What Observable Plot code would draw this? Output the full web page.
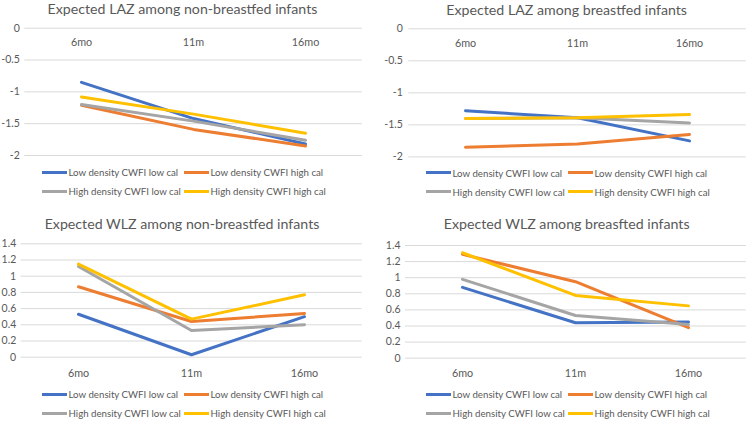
<!DOCTYPE html>
<html>
<head>
<meta charset="utf-8">
<script src="https://cdn.jsdelivr.net/npm/d3@7"></script>
<script src="https://cdn.jsdelivr.net/npm/@observablehq/plot@0.6"></script>
<style>
  html, body { margin: 0; padding: 0; background: #fff; }
  body { width: 750px; height: 423px; position: relative; overflow: hidden; font-family: Lato, "Open Sans", sans-serif; color: #595959; }
  .panel { position: absolute; width: 375px; height: 211px; }
  .title { position: absolute; top: 0; height: 18px; line-height: 18px; font-size: 14.2px; text-align: center; white-space: nowrap; color: #595959; }
  .chart { position: absolute; left: 0; top: 16px; }
  .legend { position: absolute; display: grid; grid-template-columns: 142px 142px; font-size: 9.7px; color: #595959; }
  .item { display: flex; align-items: center; height: 19px; white-space: nowrap; }
  .sw { display: inline-block; width: 25px; height: 3px; margin-right: 1.5px; }
</style>
</head>
<body>
<script>
// ---- data ----
const months = ["6mo", "11m", "16mo"];
const seriesNames = [
  "Low density CWFI low cal",
  "Low density CWFI high cal",
  "High density CWFI low cal",
  "High density CWFI high cal"
];
const seriesColors = ["#4472C4", "#ED7D31", "#A5A5A5", "#FFC000"];

// Expected LAZ among non-breastfed infants
const lazNonBF_lowLow   = [-0.85, -1.42, -1.82];
const lazNonBF_lowHigh  = [-1.21, -1.59, -1.85];
const lazNonBF_highLow  = [-1.20, -1.46, -1.76];
const lazNonBF_highHigh = [-1.08, -1.35, -1.65];

// Expected LAZ among breastfed infants
const lazBF_lowLow   = [-1.28, -1.39, -1.75];
const lazBF_lowHigh  = [-1.85, -1.80, -1.65];
const lazBF_highLow  = [-1.40, -1.39, -1.47];
const lazBF_highHigh = [-1.40, -1.39, -1.34];

// Expected WLZ among non-breastfed infants
const wlzNonBF_lowLow   = [0.53, 0.03, 0.50];
const wlzNonBF_lowHigh  = [0.87, 0.44, 0.54];
const wlzNonBF_highLow  = [1.12, 0.33, 0.40];
const wlzNonBF_highHigh = [1.15, 0.47, 0.77];

// Expected WLZ among breastfed infants
const wlzBF_lowLow   = [0.88, 0.44, 0.45];
const wlzBF_lowHigh  = [1.29, 0.95, 0.38];
const wlzBF_highLow  = [0.98, 0.53, 0.42];
const wlzBF_highHigh = [1.31, 0.78, 0.65];

const lazTicks = [0, -0.5, -1, -1.5, -2];
const wlzTicks = [0, 0.2, 0.4, 0.6, 0.8, 1, 1.2, 1.4];

function toRows(arrays) {
  const rows = [];
  arrays.forEach((arr, si) => {
    arr.forEach((v, mi) => rows.push({series: seriesNames[si], month: months[mi], value: v}));
  });
  return rows;
}

const panels = [
  {left: 0, top: 0, title: "Expected LAZ among non-breastfed infants", titleCenter: 182.5, titleY: 8.5,
   data: toRows([lazNonBF_lowLow, lazNonBF_lowHigh, lazNonBF_highLow, lazNonBF_highHigh]),
   domain: [-2, 0], ticks: lazTicks, mL: 24.3, mR: 13.3, mT: 11.7, mB: 8, h: 147, labDy: 14, tickPad: 5,
   legLeft: 42, legTop: 162.5},
  {left: 375, top: 0, title: "Expected LAZ among breastfed infants", titleCenter: 191.7, titleY: 9.5,
   data: toRows([lazBF_lowLow, lazBF_lowHigh, lazBF_highLow, lazBF_highHigh]),
   domain: [-2, 0], ticks: lazTicks, mL: 33.3, mR: 4.3, mT: 12.3, mB: 8, h: 148.4, labDy: 14.3, tickPad: 6,
   legLeft: 51, legTop: 163},
  {left: 0, top: 211, title: "Expected WLZ among non-breastfed infants", titleCenter: 182, titleY: 13.3,
   data: toRows([wlzNonBF_lowLow, wlzNonBF_lowHigh, wlzNonBF_highLow, wlzNonBF_highHigh]),
   domain: [0, 1.4], ticks: wlzTicks, mL: 20.7, mR: 13.3, mT: 16.3, mB: 24, h: 153.7, labDy: 16, tickPad: 5,
   legLeft: 42, legTop: 173.5},
  {left: 375, top: 211, title: "Expected WLZ among breasfted infants", titleCenter: 191.7, titleY: 13.3,
   data: toRows([wlzBF_lowLow, wlzBF_lowHigh, wlzBF_highLow, wlzBF_highHigh]),
   domain: [0, 1.4], ticks: wlzTicks, mL: 30, mR: 4.3, mT: 18, mB: 24, h: 154.7, labDy: 15.7, tickPad: 5,
   legLeft: 51, legTop: 173.5}
];

for (const p of panels) {
  const div = document.createElement("div");
  div.className = "panel";
  div.style.left = p.left + "px";
  div.style.top = p.top + "px";

  const chart = Plot.plot({
    width: 375,
    height: p.h,
    marginLeft: p.mL,
    marginRight: p.mR,
    marginTop: p.mT,
    marginBottom: p.mB,
    style: {fontFamily: "Lato, 'Open Sans', sans-serif", fontSize: "10.5px", color: "#595959", background: "transparent", overflow: "visible"},
    x: {type: "point", domain: months, padding: 0.5, axis: null},
    y: {domain: p.domain, ticks: p.ticks, tickFormat: d => String(d), axis: null},
    color: {domain: seriesNames, range: seriesColors},
    marks: [
      Plot.ruleY(p.ticks, {stroke: "#D9D9D9", strokeWidth: 1}),
      Plot.axisY({ticks: p.ticks, tickSize: 0, tickPadding: p.tickPad, tickFormat: d => String(d), label: null, fill: "#595959", fontSize: 10.5}),
      Plot.text(months, {x: d => d, y: d => 0, dy: p.labDy, fill: "#595959", fontSize: 10.8}),
      Plot.line(p.data, {x: "month", y: "value", z: "series", stroke: "series", strokeWidth: 3, strokeLinejoin: "round", strokeLinecap: "round"})
    ]
  });
  chart.classList.add("chart");
  div.appendChild(chart);

  const t = document.createElement("div");
  t.className = "title";
  t.textContent = p.title;
  t.style.left = (p.titleCenter - 150) + "px";
  t.style.width = "300px";
  t.style.top = (p.titleY - 9) + "px";
  div.appendChild(t);

  const leg = document.createElement("div");
  leg.className = "legend";
  leg.style.left = p.legLeft + "px";
  leg.style.top = p.legTop + "px";
  seriesNames.forEach((name, i) => {
    const item = document.createElement("div");
    item.className = "item";
    const sw = document.createElement("span");
    sw.className = "sw";
    sw.style.background = seriesColors[i];
    item.appendChild(sw);
    item.appendChild(document.createTextNode(name));
    leg.appendChild(item);
  });
  div.appendChild(leg);

  document.body.appendChild(div);
}
</script>
</body>
</html>
